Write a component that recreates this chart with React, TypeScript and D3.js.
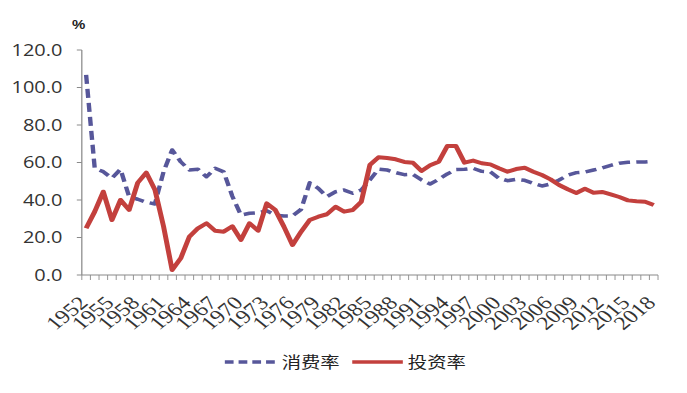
import React from 'react';
import * as d3 from 'd3';

// years on the category axis
const years = [
  1952, 1953, 1954, 1955, 1956, 1957, 1958, 1959, 1960, 1961, 1962, 1963, 1964, 1965, 1966, 1967,
  1968, 1969, 1970, 1971, 1972, 1973, 1974, 1975, 1976, 1977, 1978, 1979, 1980, 1981, 1982, 1983,
  1984, 1985, 1986, 1987, 1988, 1989, 1990, 1991, 1992, 1993, 1994, 1995, 1996, 1997, 1998, 1999,
  2000, 2001, 2002, 2003, 2004, 2005, 2006, 2007, 2008, 2009, 2010, 2011, 2012, 2013, 2014, 2015,
  2016, 2017, 2018,
];

// 消费率 (%)
const consumption = [
  106.7, 56.9, 55.1, 51.6, 56.4, 41.8, 40.4, 38.8, 37.9, 55.0, 66.7, 60.4, 56.0, 56.4, 52.4, 56.9,
  55.0, 42.0, 32.0, 32.9, 33.2, 34.3, 32.0, 31.5, 31.5, 35.0, 49.2, 46.2, 41.8, 44.4, 45.3, 43.6,
  45.3, 50.7, 56.5, 56.0, 54.6, 53.5, 53.7, 50.7, 48.5, 51.0, 53.9, 56.2, 56.4, 56.9, 55.3, 55.1,
  51.6, 50.3, 51.0, 50.5, 48.9, 47.5, 48.5, 50.7, 53.2, 54.6, 54.9, 56.0, 57.1, 58.5, 59.6, 60.1,
  60.3, 60.3, 60.6,
];

// 投资率 (%)
const investment = [
  24.9, 33.8, 44.4, 29.3, 40.0, 34.7, 49.2, 54.6, 45.5, 26.0, 2.7, 8.9, 20.4, 24.9, 27.6, 23.6,
  23.1, 26.0, 18.7, 27.6, 23.6, 38.2, 34.7, 25.8, 16.0, 23.1, 29.3, 31.1, 32.4, 36.4, 33.8, 34.7,
  39.1, 58.7, 62.8, 62.4, 61.7, 60.3, 59.9, 55.5, 58.5, 60.4, 68.8, 68.8, 59.9, 61.0, 59.6, 59.0,
  56.9, 55.1, 56.5, 57.2, 55.1, 53.3, 51.0, 48.0, 45.7, 43.7, 46.0, 43.9, 44.3, 43.0, 41.6, 39.8,
  39.3, 39.1, 37.3,
];

const yTicks = [0, 20, 40, 60, 80, 100, 120];
const xLabelYears = [
  1952, 1955, 1958, 1961, 1964, 1967, 1970, 1973, 1976, 1979, 1982, 1985, 1988, 1991, 1994, 1997,
  2000, 2003, 2006, 2009, 2012, 2015, 2018,
];

const seriesNames = ['消费率', '投资率'];
const colors = ['#57579a', '#c3403d'];

export default function App() {
  // the picture is drawn in a narrower box and stretched to 687 wide
  const VW = 550;
  const W = 687;
  const H = 393;

  const x = d3.scaleBand<number>().domain(years).range([65.5, 526.8]).padding(0);
  const y = d3.scaleLinear().domain([0, 120]).range([275, 50]);
  const cx = (yr: number) => (x(yr) as number) + x.bandwidth() / 2;

  const line = d3
    .line<number>()
    .x((_, i) => cx(years[i]))
    .y((d) => y(d));

  const axisColor = '#8a8a8a';
  const boundaries = years.map((yr) => x(yr) as number).concat([x.range()[1]]);

  return (
    <svg
      width={W}
      height={H}
      viewBox={`0 0 ${VW} ${H}`}
      preserveAspectRatio="none"
      style={{ position: 'absolute', left: 0, top: 0, background: '#fff' }}
    >
      {/* y axis */}
      <line x1={65.5} x2={65.5} y1={y(120)} y2={y(0)} stroke={axisColor} strokeWidth={1} />
      {yTicks.map((t) => (
        <g key={t}>
          <line x1={61.5} x2={65.5} y1={y(t)} y2={y(t)} stroke={axisColor} strokeWidth={1} />
          <text
            x={50}
            y={y(t)}
            dy="0.36em"
            textAnchor="end"
            fontFamily="'Open Sans', sans-serif"
            fontSize={16}
            fill="#333"
          >
            {t.toFixed(1)}
          </text>
        </g>
      ))}
      <text x={63} y={29} textAnchor="middle" fontFamily="'Liberation Sans', sans-serif" fontWeight="bold" fontSize={12} fill="#222">
        %
      </text>

      {/* x axis */}
      <line x1={x.range()[0]} x2={x.range()[1]} y1={y(0)} y2={y(0)} stroke={axisColor} strokeWidth={1} />
      {boundaries.map((b, i) => (
        <line key={i} x1={b} x2={b} y1={y(0)} y2={y(0) + 5} stroke={axisColor} strokeWidth={0.8} />
      ))}
      {xLabelYears.map((yr) => (
        <text
          key={yr}
          transform={`translate(${cx(yr) + 2.5},304) rotate(-45)`}
          textAnchor="end"
          fontFamily="'Liberation Serif', serif"
          fontSize={19}
          fill="#333"
        >
          {yr}
        </text>
      ))}

      {/* series */}
      <path d={line(consumption) ?? ''} fill="none" stroke={colors[0]} strokeWidth={3.5} strokeDasharray="9,5" strokeLinejoin="round" />
      <path d={line(investment) ?? ''} fill="none" stroke={colors[1]} strokeWidth={4} strokeLinejoin="round" />

      {/* legend */}
      <line x1={180} x2={222.5} y1={362} y2={362} stroke={colors[0]} strokeWidth={3.5} strokeDasharray="7,4" />
      <text x={225.5} y={362} dy="0.36em" fontFamily="'Noto Sans CJK SC', sans-serif" fontSize={15.5} fill="#222">
        {seriesNames[0]}
      </text>
      <line x1={282} x2={322.5} y1={362} y2={362} stroke={colors[1]} strokeWidth={3.5} />
      <text x={326.5} y={362} dy="0.36em" fontFamily="'Noto Sans CJK SC', sans-serif" fontSize={15.5} fill="#222">
        {seriesNames[1]}
      </text>
    </svg>
  );
}
